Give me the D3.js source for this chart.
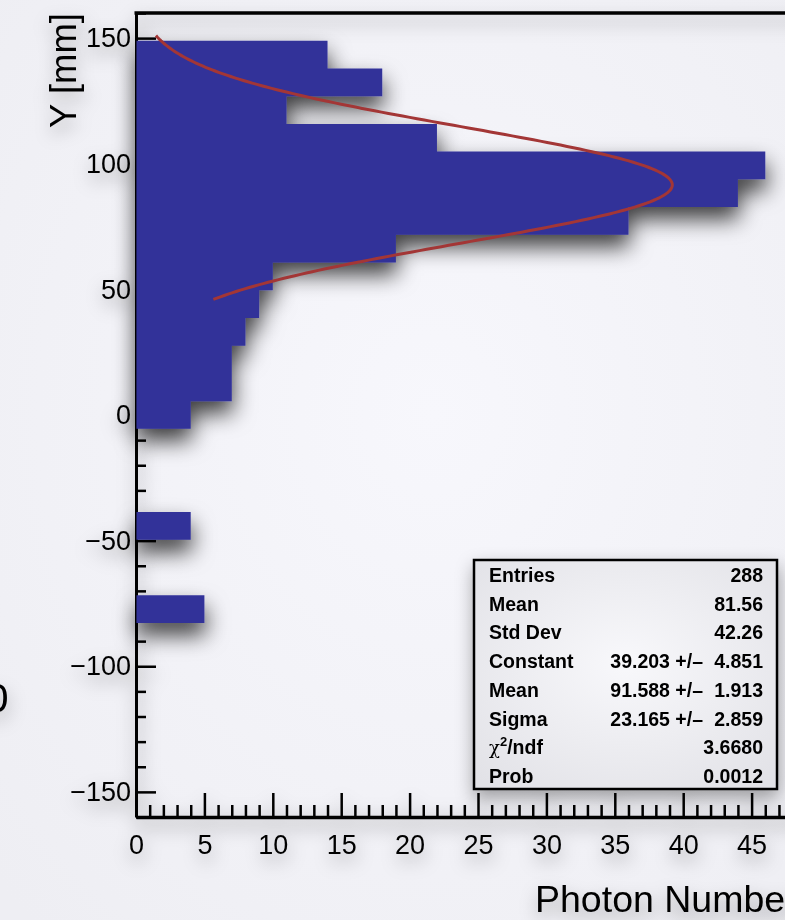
<!DOCTYPE html>
<html>
<head>
<meta charset="utf-8">
<script src="https://cdn.jsdelivr.net/npm/d3@7"></script>
<style>
  html, body { margin: 0; padding: 0; background: #f5f5fa; }
  svg { display: block; font-family: "Liberation Sans", Arial, Helvetica, sans-serif; }
</style>
</head>
<body>
<svg id="chart" width="785" height="920"></svg>
<script>
// Histogram binning along Y [mm]: 29 equal bins from -160 to 160
const yRange = [-160, 160];
const binCount = 29;
// Photon counts per bin, from the lowest bin (-160) upwards
const binCounts = [0, 0, 0, 0, 0, 0, 0, 5, 0, 0, 4, 0, 0, 0, 4, 7, 7, 8, 9, 10, 19, 36, 44, 46, 22, 11, 18, 14, 0];

// Gaussian fit: parameters and fit range
const fitParams = { constant: 39.203, mean: 91.588, sigma: 23.165 };
const fitRange = [46, 151];

// Axis ticks
const xMajorTicks = [0, 5, 10, 15, 20, 25, 30, 35, 40, 45];
const yMajorTicks = [-150, -100, -50, 0, 50, 100, 150];

// Statistics box rows
const statLabels = ["Entries", "Mean", "Std Dev", "Constant", "Mean", "Sigma", "χ2/ndf", "Prob"];
const statValues = ["288", "81.56", "42.26", "39.203 +/\u2013", "91.588 +/\u2013", "23.165 +/\u2013", "3.6680", "0.0012"];
const statErrors = ["", "", "", "4.851", "1.913", "2.859", "", ""];

const svg = d3.select("#chart");
const W = 785, H = 920;

const defs = svg.append("defs");
const bgGrad = defs.append("radialGradient").attr("id", "bg")
  .attr("cx", "55%").attr("cy", "45%").attr("r", "75%");
bgGrad.append("stop").attr("offset", "0%").attr("stop-color", "#f7f7fc");
bgGrad.append("stop").attr("offset", "100%").attr("stop-color", "#eeeef3");

const shadow = defs.append("filter").attr("id", "shadow")
  .attr("x", "-30%").attr("y", "-30%").attr("width", "160%").attr("height", "160%");
shadow.append("feDropShadow")
  .attr("dx", 1).attr("dy", 12).attr("stdDeviation", 11)
  .attr("flood-color", "#000").attr("flood-opacity", 0.75);

const textShadow = defs.append("filter").attr("id", "tshadow")
  .attr("x", "-30%").attr("y", "-30%").attr("width", "160%").attr("height", "160%");
textShadow.append("feDropShadow")
  .attr("dx", 1).attr("dy", 8).attr("stdDeviation", 9)
  .attr("flood-color", "#000").attr("flood-opacity", 0.35);

const boxGrad = defs.append("radialGradient").attr("id", "boxbg")
  .attr("cx", "50%").attr("cy", "45%").attr("r", "70%");
boxGrad.append("stop").attr("offset", "0%").attr("stop-color", "#f8f8fb");
boxGrad.append("stop").attr("offset", "100%").attr("stop-color", "#e2e2e7");

svg.append("rect").attr("width", W).attr("height", H).attr("fill", "url(#bg)");

const x = d3.scaleLinear().domain([0, 50]).range([136, 820]);
const y = d3.scaleLinear().domain(yRange).range([817, 13]);
const binW = (yRange[1] - yRange[0]) / binCount;

const bins = binCounts.map((c, i) => ({
  lo: yRange[0] + i * binW,
  hi: yRange[0] + (i + 1) * binW,
  count: c
}));

// Axes and frame
const axes = svg.append("g").attr("filter", "url(#tshadow)");

const xMinor = d3.range(0, 51, 1).filter(v => v % 5 !== 0);
axes.append("g").attr("transform", `translate(0,${y(yRange[0])})`)
  .call(d3.axisBottom(x).tickValues(xMinor).tickSize(-12).tickFormat(""))
  .call(g => g.select(".domain").remove())
  .call(g => g.selectAll("line").attr("stroke", "#000").attr("stroke-width", 2.5));

axes.append("g").attr("transform", `translate(0,${y(yRange[0])})`)
  .call(d3.axisBottom(x).tickValues(xMajorTicks).tickSize(-24).tickSizeOuter(0).tickPadding(18))
  .call(g => g.select(".domain").attr("stroke", "#000").attr("stroke-width", 3.5))
  .call(g => g.selectAll("line").attr("stroke", "#000").attr("stroke-width", 2.5))
  .call(g => g.selectAll("text").attr("font-size", 27).attr("fill", "#000")
    .attr("font-family", "Liberation Sans, Arial, sans-serif"));

const yMinor = d3.range(-160, 161, 10).filter(v => v % 50 !== 0);
axes.append("g").attr("transform", `translate(${x(0)},0)`)
  .call(d3.axisLeft(y).tickValues(yMinor).tickSize(-10).tickFormat(""))
  .call(g => g.select(".domain").remove())
  .call(g => g.selectAll("line").attr("stroke", "#000").attr("stroke-width", 2.5));

axes.append("g").attr("transform", `translate(${x(0)},0)`)
  .call(d3.axisLeft(y).tickValues(yMajorTicks).tickSize(-20).tickSizeOuter(0).tickPadding(5))
  .call(g => g.select(".domain").attr("stroke", "#000").attr("stroke-width", 3))
  .call(g => g.selectAll("line").attr("stroke", "#000").attr("stroke-width", 2.5))
  .call(g => g.selectAll("text").attr("font-size", 27).attr("fill", "#000")
    .attr("font-family", "Liberation Sans, Arial, sans-serif"));

// top and right frame lines
axes.append("path")
  .attr("d", `M${x(0) - 1.5},${y(yRange[1])}H${x(50)}V${y(yRange[0])}`)
  .attr("fill", "none").attr("stroke", "#000").attr("stroke-width", 3.5);

// Histogram bars (horizontal), merged into one path so shared edges leave no seams
const barPath = d3.path();
bins.filter(b => b.count > 0).forEach(b => {
  barPath.rect(x(0) + 0.5, y(b.hi), x(b.count) - x(0) - 0.5, y(b.lo) - y(b.hi));
});
svg.append("g").attr("filter", "url(#shadow)")
  .append("path")
  .attr("d", barPath.toString())
  .attr("fill", "#333399");

// Gaussian fit curve
const fitYs = d3.range(0, 201).map(i => fitRange[0] + (fitRange[1] - fitRange[0]) * i / 200);
const gauss = v => fitParams.constant * Math.exp(-0.5 * Math.pow((v - fitParams.mean) / fitParams.sigma, 2));
svg.append("path")
  .datum(fitYs)
  .attr("d", d3.line().x(v => x(gauss(v))).y(v => y(v)))
  .attr("fill", "none").attr("stroke", "#a33636").attr("stroke-width", 3);

// Axis titles
const titles = svg.append("g").attr("filter", "url(#tshadow)")
  .attr("font-family", "Liberation Sans, Arial, sans-serif").attr("fill", "#000");
titles.append("text")
  .attr("transform", `translate(76,13) rotate(-90)`)
  .attr("text-anchor", "end").attr("font-size", 36.5)
  .text("Y [mm]");
titles.append("text")
  .attr("x", 535).attr("y", 912).attr("font-size", 37.5)
  .text("Photon Number");
titles.append("text")
  .attr("x", 8.5).attr("y", 712).attr("text-anchor", "end").attr("font-size", 41)
  .text("0");

// Statistics box
const box = svg.append("g").attr("filter", "url(#tshadow)");
box.append("rect")
  .attr("x", 474).attr("y", 560).attr("width", 303).attr("height", 229)
  .attr("fill", "url(#boxbg)").attr("stroke", "#000").attr("stroke-width", 2.5);

const rowY = i => 582 + i * 28.7;
const st = box.append("g").attr("font-weight", "bold").attr("font-size", 19.5)
  .attr("font-family", "Liberation Sans, Arial, sans-serif").attr("fill", "#000");

statLabels.forEach((lab, i) => {
  const t = st.append("text").attr("x", 489).attr("y", rowY(i));
  if (lab === "χ2/ndf") {
    t.append("tspan").attr("font-weight", "normal").attr("font-family", "DejaVu Serif, serif").attr("font-size", 18).text("χ");
    t.append("tspan").attr("font-size", 13).attr("dy", -8).text("2");
    t.append("tspan").attr("dy", 8).text("/ndf");
  } else {
    t.text(lab);
  }
  if (statErrors[i]) {
    st.append("text").attr("x", 703).attr("y", rowY(i)).attr("text-anchor", "end").text(statValues[i]);
    st.append("text").attr("x", 763).attr("y", rowY(i)).attr("text-anchor", "end").text(statErrors[i]);
  } else {
    st.append("text").attr("x", 763).attr("y", rowY(i)).attr("text-anchor", "end").text(statValues[i]);
  }
});
</script>
</body>
</html>
